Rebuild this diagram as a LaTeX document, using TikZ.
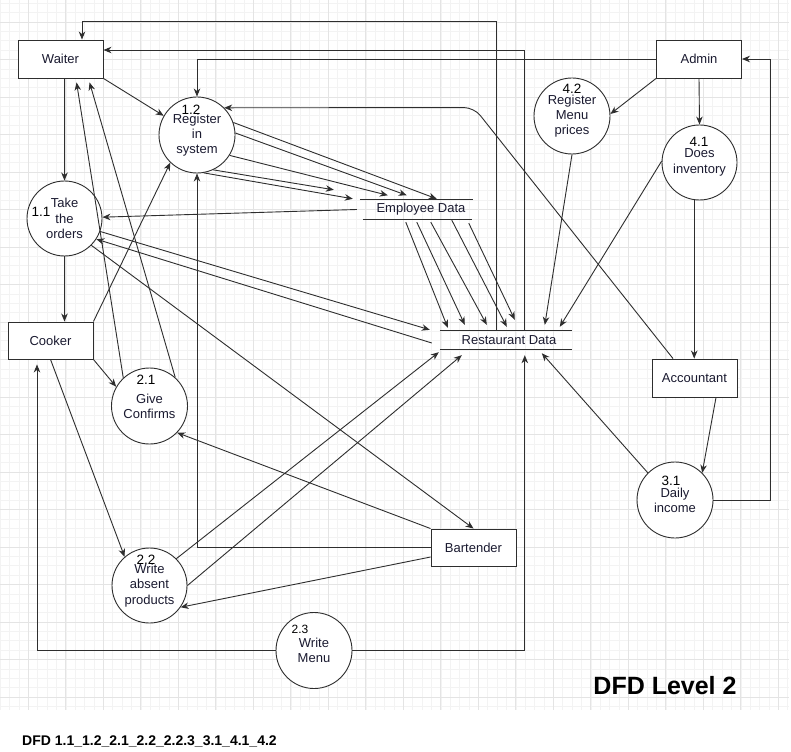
\documentclass[tikz,border=0pt]{standalone}
\usepackage{fontspec}
\setmainfont{Liberation Sans}
\usetikzlibrary{arrows.meta}
\definecolor{gridminor}{HTML}{F3F3F3}
\definecolor{gridmajor}{HTML}{E4E4E4}
\definecolor{ink}{HTML}{2E2E2E}
\definecolor{txt}{HTML}{1A1A30}
\begin{document}
\begin{tikzpicture}[x=1pt,y=-1pt,
  flow/.style={draw=ink, line width=0.9pt, -{Stealth[length=8pt,width=6.5pt,inset=2.5pt]}},
  wire/.style={draw=ink, line width=0.9pt},
  entity/.style={draw=ink, line width=0.9pt, fill=white, minimum width=85pt, minimum height=38pt,
    inner sep=0pt, font=\fontsize{13}{15.3}\selectfont, text=txt},
  process/.style={circle, draw=ink, line width=0.9pt, fill=white, minimum size=76pt, inner sep=0pt,
    align=center, font=\fontsize{13}{15.3}\selectfont, text=txt},
  pnum/.style={inner sep=0pt, font=\fontsize{13.5}{15}\selectfont, text=black},
  store/.style={inner sep=0pt, font=\fontsize{13}{15.3}\selectfont, text=txt},
]
\useasboundingbox (0,0) rectangle (791,751);
\fill[white] (0,0) rectangle (791,751);

% canvas grid
\foreach \i in {0,...,84} \draw[gridminor, line width=0.6pt] (0.2+\i*9.375,0) -- ++(0,710);
\foreach \j in {0,...,75} \draw[gridminor, line width=0.6pt] (0,3.25+\j*9.375) -- ++(789,0);
\foreach \i in {0,...,20} \draw[gridmajor, line width=0.7pt] (28.3+\i*37.5,0) -- ++(0,710);
\foreach \j in {0,...,18} \draw[gridmajor, line width=0.7pt] (0,22+\j*37.5) -- ++(789,0);

% external entities
\node[entity] (waiter) at (60.5,59) {Waiter};
\node[entity] (admin) at (699,59) {Admin};
\node[entity, minimum height=37pt] (cooker) at (50.5,340.5) {Cooker};
\node[entity] (accountant) at (694.5,378) {Accountant};
\node[entity, minimum height=37pt] (bartender) at (473.5,547.5) {Bartender};

% processes
\node[process] (p12) at (197,135) {Register\\in\\system};
\node[process, minimum size=75pt] (p11) at (64.5,218.5) {Take\\the\\orders};
\node[process] (p42) at (572,116) {Register\\Menu\\prices};
\node[process, minimum size=75pt] (p41) at (699.5,162.5) {Does\\inventory};
\node[process] (p21) at (149.5,406) {Give\\Confirms};
\node[process] (p31) at (675,500) {Daily\\income};
\node[process, minimum size=75pt] (p22) at (149.5,585.5) {Write\\absent\\products};
\node[process] (p23) at (314,650.5) {Write\\Menu};

% process numbers
\node[pnum] (n12) at (191,110) {1.2};
\node[pnum] (n11) at (41,212) {1.1};
\node[pnum] (n42) at (572,89) {4.2};
\node[pnum] (n41) at (699,142) {4.1};
\node[pnum] (n21) at (146,380) {2.1};
\node[pnum] (n31) at (671,481) {3.1};
\node[pnum] (n22) at (146,560) {2.2};
\node[pnum, font=\fontsize{12}{14}\selectfont] (n23) at (300,629) {2.3};

% data stores
\node[store, minimum width=112pt, minimum height=19pt, execute at begin node=\hspace*{8pt}] (emp) at (417,209.5) {Employee Data};
\draw[wire] ([xshift=-1pt]emp.north west) -- (emp.north east);
\draw[wire] ([xshift=2pt]emp.south west) -- ([xshift=-1pt]emp.south east);
\node[store, minimum width=132pt, minimum height=18pt, execute at begin node=\hspace*{6pt}] (rest) at (506,340) {Restaurant Data};
\draw[wire] (rest.north west) -- (rest.north east);
\draw[wire] (rest.south west) -- (rest.south east);

% flows around the top
\draw[flow] ([xshift=57pt]rest.north west) -- ++(0,-309) -| ([xshift=21.5pt]waiter.north);
\draw[flow] ([xshift=85pt]rest.north west) |- ([yshift=9pt]waiter.east);
\draw[flow] (admin.west) -| (p12.north);
\draw[flow, rounded corners=10pt] ([xshift=-21.5pt]accountant.north) -- ++(-199,-251) -- (p12.45);

% waiter flows
\draw[flow] (waiter.south east) -- (p12.150);
\draw[flow] (waiter.south -| p11.north) -- (p11.north);
\draw[flow] (p21.133) -- ([xshift=59pt,yshift=-4pt]waiter.south west);
\draw[flow] (p21.48) -- ([xshift=72pt,yshift=-4pt]waiter.south west);

% cooker flows
\draw[flow] (p11.south) -- (p11.south |- cooker.north);
\draw[flow] (cooker.north east) -- (p12.226);
\draw[flow] (cooker.south east) -- (p21.150);
\draw[flow] (cooker.south) -- (p22.131);
\draw[flow] (p23.west) -| ([xshift=-13.5pt,yshift=-5pt]cooker.south);
\draw[flow] (p23.east) -| ([xshift=85pt,yshift=-6pt]rest.south west);

% bartender flows
\draw[flow] (bartender.west) -| (p12.south);
\draw[flow] (bartender.north west) -- (p21.-44);
\draw[flow] ([yshift=-9.5pt]bartender.west) -- (p22.-35);
\draw[flow] (p11.-45) -- (bartender.north);

% write absent products -> restaurant data
\draw[flow] (p22.45) -- ([xshift=-1pt,yshift=-3pt]rest.south west);
\draw[flow] (p22.0) -- ([xshift=22pt,yshift=-6pt]rest.south west);

% take the orders <-> stores
\draw[flow] (p11.-20) -- ([xshift=-10pt,yshift=1pt]rest.north west);
\draw[flow] ([xshift=-8pt,yshift=-3pt]rest.west) -- (p11.-33);
\draw[flow] ([xshift=-4pt]emp.west) -- (p11.2);

% register in system -> employee data
\draw[flow] (p12.19) -- ([xshift=-36.5pt,yshift=1pt]emp.north east);
\draw[flow] (p12.3) -- ([xshift=-66.5pt,yshift=4.5pt]emp.north east);
\draw[flow] (p12.-32) -- ([xshift=27pt,yshift=4.5pt]emp.north west);
\draw[flow] (p12.-65) -- ([xshift=-27pt,yshift=10pt]emp.north west);
\draw[flow] (p12.-80) -- ([xshift=-8pt,yshift=1pt]emp.north west);

% employee data -> restaurant data
\draw[flow] ([xshift=45pt,yshift=-3pt]emp.south west) -- ([xshift=8pt,yshift=3pt]rest.north west);
\draw[flow] ([xshift=56pt,yshift=-3pt]emp.south west) -- ([xshift=25pt,yshift=6pt]rest.north west);
\draw[flow] ([xshift=70pt,yshift=-3pt]emp.south west) -- ([xshift=47pt,yshift=6pt]rest.north west);
\draw[flow] ([xshift=91pt,yshift=-1pt]emp.south west) -- ([xshift=67pt,yshift=4pt]rest.north west);
\draw[flow] ([xshift=108pt,yshift=-4pt]emp.south west) -- ([xshift=75pt,yshift=11pt]rest.north west);

% admin side
\draw[flow] (p42.south) -- ([xshift=105pt,yshift=6pt]rest.north west);
\draw[flow] (p41.178) -- ([xshift=120pt,yshift=4pt]rest.north west);
\draw[flow] (admin.south west) -- (p42.3);
\draw[flow] (admin.south) -- (p41.north);
\draw[flow] (p41.262) -- (p41.262 |- accountant.north);
\draw[flow] ([xshift=21.5pt]accountant.south) -- (p31.45);
\draw[flow] (p31.135) -- ([xshift=102pt,yshift=-4pt]rest.south west);
\draw[flow] (p31.east) -| ([xshift=28pt]admin.east) -- (admin.east);

% titles
\node[inner sep=0pt, font=\fontsize{25}{28}\selectfont\bfseries, text=black] (title) at (665,686) {DFD Level 2};
\node[inner sep=0pt, font=\fontsize{14}{16}\selectfont\bfseries, text=black] (caption) at (149.5,741) {DFD 1.1\_1.2\_2.1\_2.2\_2.2.3\_3.1\_4.1\_4.2};
\end{tikzpicture}
\end{document}
